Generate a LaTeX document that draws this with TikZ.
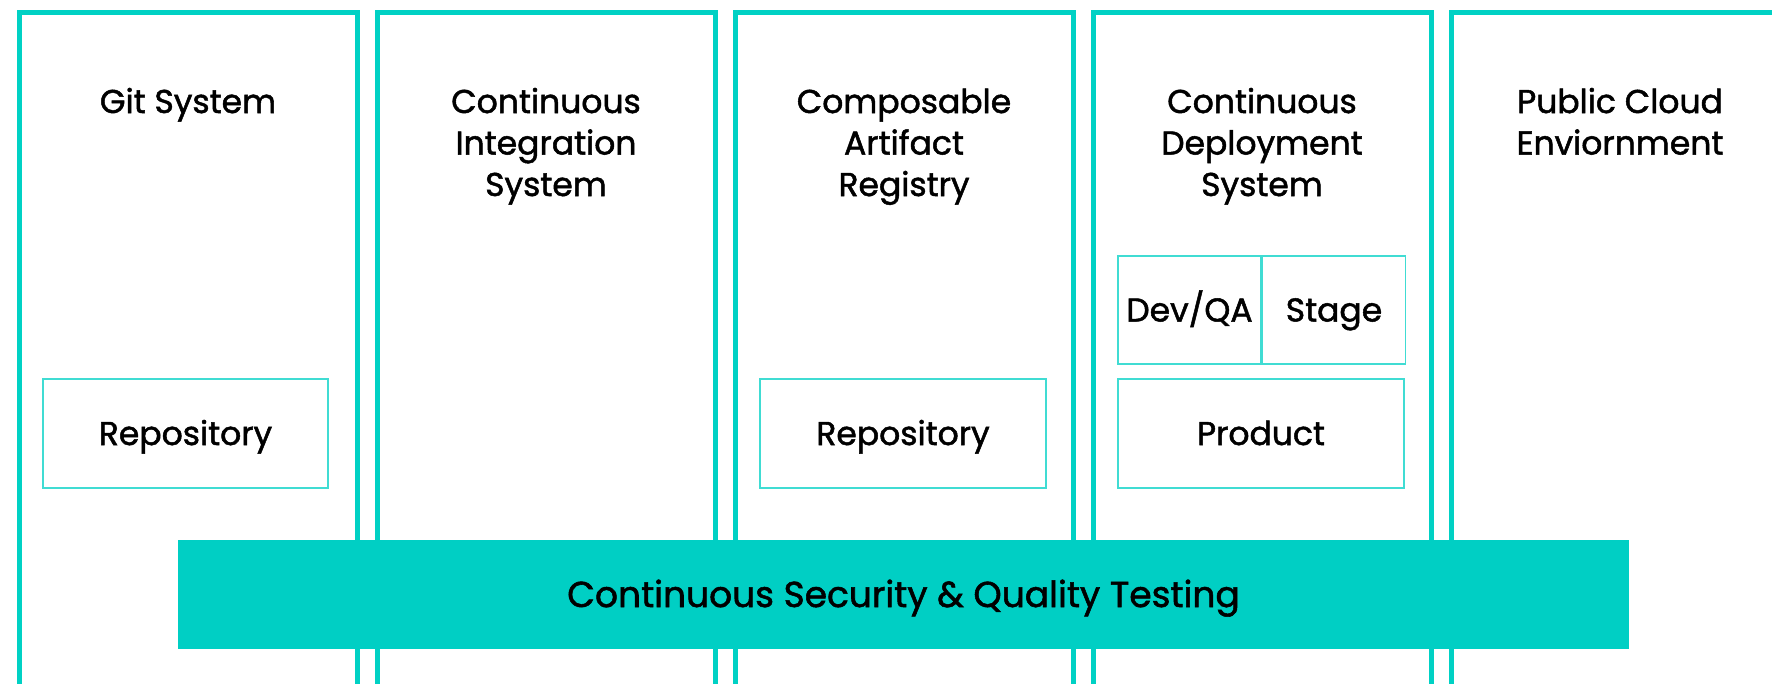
\documentclass[tikz,border=0pt]{standalone}
\usepackage{fontspec}
\setmainfont{Poppins}[FakeBold=1.5]
\definecolor{tealline}{HTML}{00D1C4}
\definecolor{tealthin}{HTML}{40DCD3}
\definecolor{tealbar}{HTML}{00CFC4}
\begin{document}
\begin{tikzpicture}[x=1pt,y=-1pt,
  column/.style={draw=tealline,line width=5pt},
  title/.style={anchor=base,align=center,font=\fontsize{33}{41.5}\selectfont},
  inbox/.style={draw=tealthin,line width=1.5pt,inner sep=0pt,minimum height=109pt,
    text height=23pt,text depth=0pt,font=\fontsize{33}{41.5}\selectfont}]
  \useasboundingbox (0,0) rectangle (1772,683);
  \clip (0,0) rectangle (1772,683);

  % the five system columns
  \draw[column] (19,700) -- (19,12) -- (357,12) -- (357,700);
  \draw[column] (377,700) -- (377,12) -- (715,12) -- (715,700);
  \draw[column] (735,700) -- (735,12) -- (1073,12) -- (1073,700);
  \draw[column] (1093,700) -- (1093,12) -- (1431,12) -- (1431,700);
  \draw[column] (1451,700) -- (1451,12) -- (1789,12) -- (1789,700);

  % titles, placed at the baseline of their last line
  \node[title] (git) at (188,113) {Git System};
  \node[title] (ci) at (546,196) {Continuous\\Integration\\System};
  \node[title] (registry) at (904,196) {Composable\\Artifact\\Registry};
  \node[title] (cd) at (1262,196) {Continuous\\Deployment\\System};
  \node[title] (cloud) at (1620,154.5) {Public Cloud\\Enviornment};

  % boxes inside the columns
  \node[inbox,minimum width=285pt] (gitrepo) at (185.5,433.5) {Repository};
  \node[inbox,minimum width=286pt] (artrepo) at (903,433.5) {Repository};
  \node[inbox,minimum width=143pt,minimum height=108pt] (devqa) at (1189.5,310) {Dev/QA};
  \node[inbox,minimum width=143pt,minimum height=108pt,anchor=west] (stage) at (devqa.east) {Stage};
  \node[inbox,minimum width=286pt] (product) at (1261,433.5) {Product};

  % testing bar across the columns
  \node[fill=tealbar,minimum width=1451pt,minimum height=109pt,inner sep=0pt,
    text height=25pt,text depth=0pt,
    font=\fontsize{36}{44}\selectfont] (testing) at (903.5,594.5) {Continuous Security \& Quality Testing};
\end{tikzpicture}
\end{document}
